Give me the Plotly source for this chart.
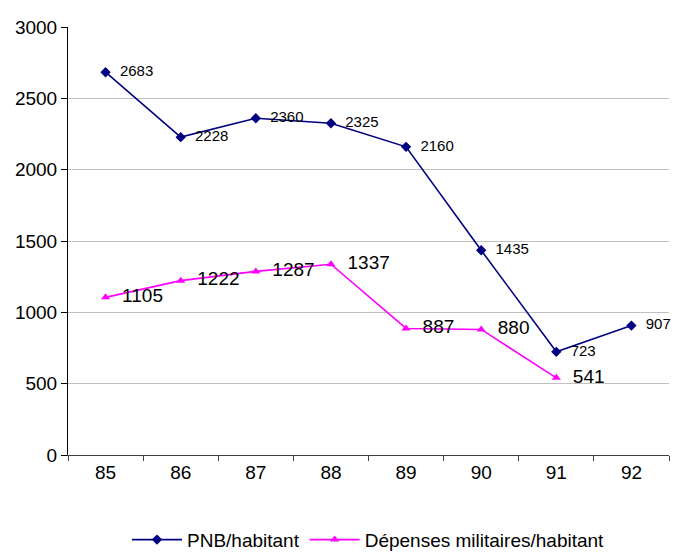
import plotly.graph_objects as go

years = ["85", "86", "87", "88", "89", "90", "91", "92"]
pnb = [2683, 2228, 2360, 2325, 2160, 1435, 723, 907]
dep_years = ["85", "86", "87", "88", "89", "90", "91"]
dep = [1105, 1222, 1287, 1337, 887, 880, 541]
y_ticks = [0, 500, 1000, 1500, 2000, 2500, 3000]

FONT = "Liberation Sans, Arial, sans-serif"

fig = go.Figure()
fig.add_trace(go.Scatter(
    x=years, y=pnb, name="PNB/habitant",
    mode="lines+markers+text",
    line=dict(color="#000080", width=1.6),
    marker=dict(symbol="diamond", size=8, color="#000080"),
    text=["  " + str(v) for v in pnb],
    textposition="middle right",
    textfont=dict(size=15, color="#000000", family=FONT),
    cliponaxis=False,
))
fig.add_trace(go.Scatter(
    x=dep_years, y=dep, name="Dépenses militaires/habitant",
    mode="lines+markers+text",
    line=dict(color="#FF00FF", width=1.6),
    marker=dict(symbol="triangle-up", size=8, color="#FF00FF"),
    text=["  " + str(v) for v in dep],
    textposition="middle right",
    textfont=dict(size=19, color="#000000", family=FONT),
    cliponaxis=False,
))

fig.update_layout(
    width=674, height=554,
    margin=dict(l=68, r=5, t=27, b=99, autoexpand=False),
    paper_bgcolor="white", plot_bgcolor="white",
    font=dict(family=FONT, size=19, color="#000000"),
    showlegend=True,
    legend=dict(orientation="h", x=0.5, xanchor="center", y=-0.198, yanchor="middle",
                font=dict(size=19), itemwidth=50),
    xaxis=dict(type="category", range=[-0.5, 7.5], tickson="boundaries", automargin=False,
               ticks="outside", ticklen=5, tickcolor="#404040",
               showline=True, linecolor="#404040", linewidth=1.2,
               showgrid=False, tickfont=dict(size=19)),
    yaxis=dict(range=[0, 3000], tickvals=y_ticks, ticks="outside", ticklen=6, automargin=False,
               tickcolor="#000000", showline=True, linecolor="#000000", linewidth=1,
               showgrid=True, gridcolor="#C0C0C0", gridwidth=1, zeroline=False,
               tickfont=dict(size=19)),
)

fig.write_html(
    "out.html",
    config={"displayModeBar": False},
    post_script="document.body.style.margin='0';document.body.style.overflow='hidden';",
)
